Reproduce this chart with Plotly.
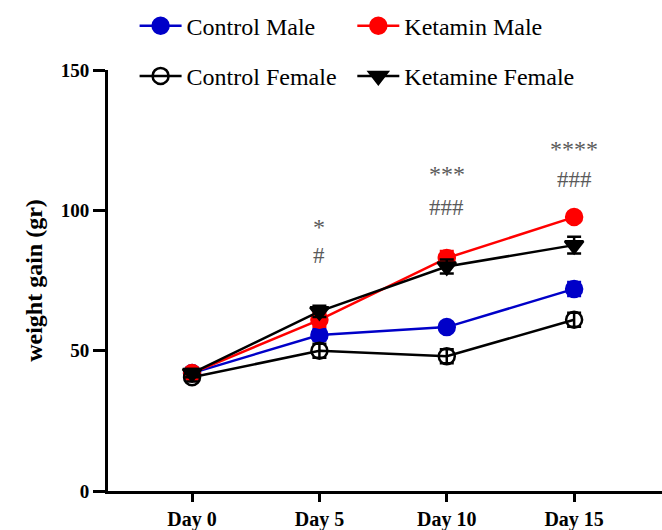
import plotly.graph_objects as go

days = ["Day 0", "Day 5", "Day 10", "Day 15"]
control_male = [42.0, 55.6, 58.4, 72.0]
control_male_err = [1.5, 2.0, 1.5, 2.5]
ketamin_male = [42.0, 61.0, 83.0, 97.6]
ketamin_male_err = [1.5, 2.5, 2.5, 1.5]
control_female = [40.5, 50.0, 48.0, 61.0]
control_female_err = [1.5, 2.5, 2.5, 2.5]
ketamine_female = [42.0, 64.0, 80.0, 87.6]
ketamine_female_err = [1.5, 2.0, 2.5, 3.0]

sig_star = ["", "*", "***", "****"]
sig_star_y = [None, 94, 113, 122]
sig_hash = ["", "#", "###", "###"]
sig_hash_y = [None, 84, 101, 111]

FONT = "Liberation Serif, Times New Roman, serif"
x = list(range(len(days)))

fig = go.Figure()

def add(name, y, err, color, symbol, legend, fill=None):
    fig.add_trace(go.Scatter(
        x=x, y=y, name=name, mode="lines+markers", legend=legend,
        line=dict(color=color, width=2.5),
        marker=dict(symbol=symbol, size=16, color=fill or color,
                    line=dict(color=color, width=2.5)),
        error_y=dict(type="data", array=err, visible=True,
                     color=color, thickness=2.5, width=7),
    ))

add("Control Male", control_male, control_male_err, "#0000C8", "circle", "legend")
add("Ketamin Male", ketamin_male, ketamin_male_err, "#FF0000", "circle", "legend2")
add("Control Female", control_female, control_female_err, "black", "circle-open", "legend3")
add("Ketamine Female", ketamine_female, ketamine_female_err, "black", "triangle-down", "legend4")

for i in range(len(days)):
    if sig_star[i]:
        fig.add_annotation(x=x[i], y=sig_star_y[i], text=sig_star[i], showarrow=False,
                           font=dict(family=FONT, size=24, color="#5a5a5a"))
        fig.add_annotation(x=x[i], y=sig_hash_y[i], text=sig_hash[i], showarrow=False,
                           font=dict(family=FONT, size=23, color="#5a5a5a"))

legend_style = dict(orientation="h", xanchor="left", yanchor="middle",
                    font=dict(family=FONT, size=24, color="black"),
                    bgcolor="rgba(0,0,0,0)", itemwidth=42)

fig.update_layout(
    width=662, height=530,
    margin=dict(l=108, r=0, t=70, b=39, autoexpand=False),
    plot_bgcolor="white", paper_bgcolor="white",
    showlegend=True,
    legend=dict(x=0.048, y=1.104, **legend_style),
    legend2=dict(x=0.441, y=1.104, **legend_style),
    legend3=dict(x=0.048, y=0.985, **legend_style),
    legend4=dict(x=0.441, y=0.985, **legend_style),
    xaxis=dict(
        range=[-0.66, 3.69], tickmode="array", tickvals=x, ticktext=days,
        showgrid=False, zeroline=False, showline=True, linecolor="black", linewidth=3,
        ticks="outside", ticklen=8, tickwidth=3, tickcolor="black",
        tickfont=dict(family=FONT, size=20, color="black", weight="bold"),
    ),
    yaxis=dict(
        range=[0, 150], tickvals=[0, 50, 100, 150],
        showgrid=False, zeroline=False, showline=True, linecolor="black", linewidth=3,
        ticks="outside", ticklen=12, tickwidth=3, tickcolor="black",
        tickfont=dict(family=FONT, size=19, color="black", weight="bold"),
        title=dict(text="weight gain (gr)", standoff=12,
                   font=dict(family=FONT, size=24, color="black", weight="bold")),
    ),
)

fig.write_html("out.html", config={"displayModeBar": False},
               post_script="document.body.style.margin='0';")
